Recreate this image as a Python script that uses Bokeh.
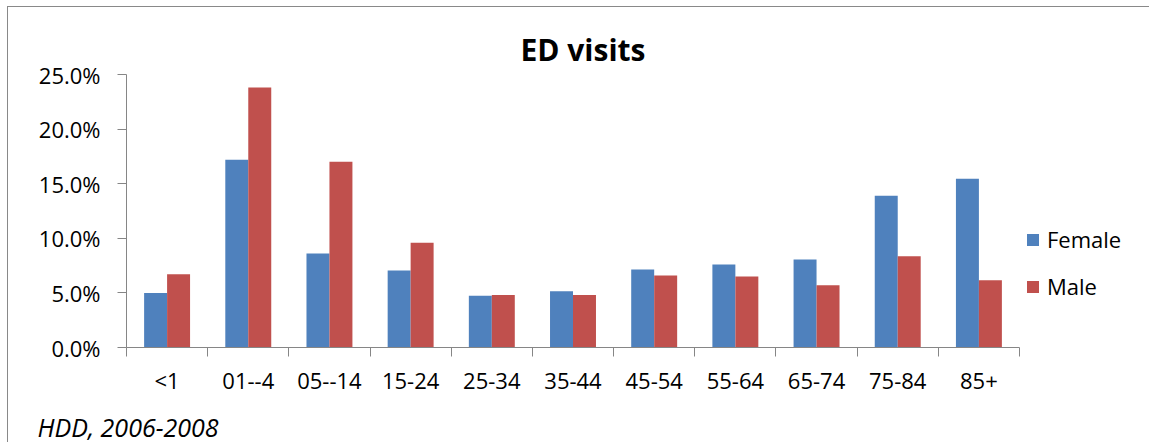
import numpy as np
from bokeh.plotting import figure
from bokeh.models import (Range1d, FixedTicker, PrintfTickFormatter, Legend, LegendItem, Title)
from bokeh.embed import file_html
from bokeh.resources import INLINE

categories = ["<1", "01--4", "05--14", "15-24", "25-34", "35-44", "45-54", "55-64", "65-74", "75-84", "85+"]
female = [5.0, 17.2, 8.6, 7.05, 4.75, 5.15, 7.15, 7.6, 8.05, 13.9, 15.45]
male = [6.7, 23.8, 17.0, 9.6, 4.8, 4.8, 6.6, 6.5, 5.7, 8.35, 6.15]
y_ticks = [0, 5, 10, 15, 20, 25]
series_names = ["Female", "Male"]
colors = ["#4F81BD", "#C0504D"]
title_text = "ED visits"
footer_text = "HDD, 2006-2008"

FONT = "Open Sans"
n = len(categories)
centers = np.arange(n) + 0.5
bw = 0.283

p = figure(frame_width=893, frame_height=273, output_backend="svg", toolbar_location=None,
           x_range=Range1d(0, n), y_range=Range1d(0, 25),
           min_border_left=118, min_border_right=129, min_border_top=67, min_border_bottom=95)
p.styles = {"margin-left": "7px", "margin-top": "6px",
            "border-left": "1px solid #898989", "border-top": "1px solid #898989"}
p.outline_line_color = None
p.xgrid.grid_line_color = None
p.ygrid.grid_line_color = None

r_f = p.vbar(x=centers - bw / 2, top=female, width=bw, bottom=0, fill_color=colors[0], line_color=None)
r_m = p.vbar(x=centers + bw / 2, top=male, width=bw, bottom=0, fill_color=colors[1], line_color=None)

# y axis
p.yaxis.ticker = FixedTicker(ticks=y_ticks)
p.yaxis.formatter = PrintfTickFormatter(format="%.1f%%")
p.yaxis.axis_line_color = "#868686"
p.yaxis.major_tick_line_color = "#868686"
p.yaxis.major_tick_in = 0
p.yaxis.major_tick_out = 9
p.yaxis.minor_tick_line_color = None
p.yaxis.major_label_standoff = 17
p.yaxis.major_label_text_font = FONT
p.yaxis.major_label_text_font_size = "22px"
p.yaxis.major_label_text_color = "black"

# x axis: labels at centres, ticks at boundaries
p.xaxis.ticker = FixedTicker(ticks=list(centers), minor_ticks=list(range(n + 1)))
p.xaxis.major_label_overrides = {float(c): lab for c, lab in zip(centers, categories)}
p.xaxis.axis_line_color = "#868686"
p.xaxis.major_tick_line_color = None
p.xaxis.minor_tick_line_color = "#868686"
p.xaxis.minor_tick_in = 0
p.xaxis.minor_tick_out = 9
p.xaxis.major_label_standoff = 8
p.xaxis.major_label_text_font = FONT
p.xaxis.major_label_text_font_size = "22px"
p.xaxis.major_label_text_color = "black"

legend = Legend(items=[LegendItem(label=series_names[0], renderers=[r_f]),
                       LegendItem(label=series_names[1], renderers=[r_m])],
                location=(6, 46), orientation="vertical",
                glyph_width=15, glyph_height=15, label_standoff=7, spacing=17,
                padding=0, margin=0, border_line_color=None, background_fill_alpha=0,
                label_text_font=FONT, label_text_font_size="22px", label_text_color="black")
p.add_layout(legend, "right")

p.add_layout(Title(text=title_text, align="left", offset=394,
                   text_font=FONT, text_font_size="30px", text_font_style="bold", text_color="black"),
             "above")
p.add_layout(Title(text=footer_text, align="left", offset=-89, standoff=20,
                   text_font=FONT, text_font_size="25px", text_font_style="italic", text_color="black"),
             "below")

open("out.html", "w").write(file_html(p, INLINE))
